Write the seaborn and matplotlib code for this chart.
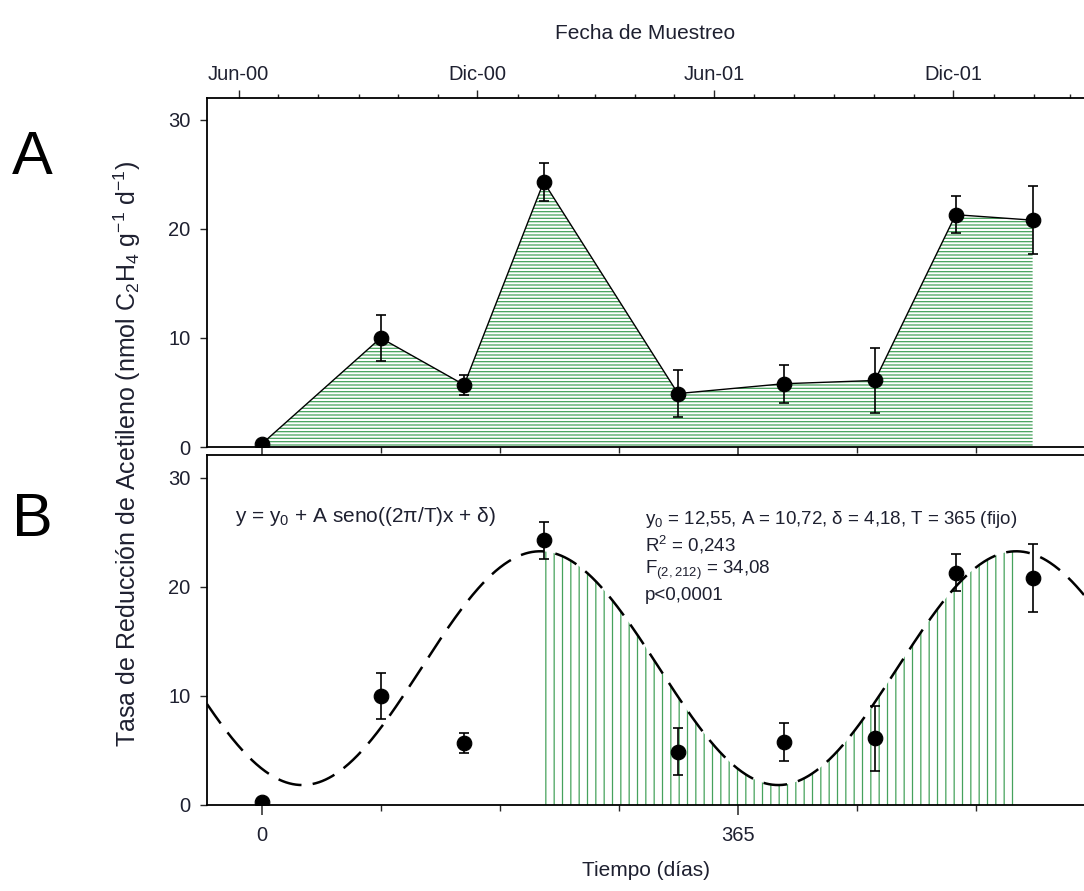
import numpy as np
import pandas as pd
import matplotlib
matplotlib.use("Agg")
import matplotlib.pyplot as plt
from matplotlib.ticker import FixedLocator, NullFormatter
import seaborn as sns

# ---------------- data ----------------
dias = [0, 91, 155, 216, 319, 400, 470, 532, 591]          # Tiempo (días)
tasa = [0.3, 10.0, 5.7, 24.3, 4.9, 5.8, 6.1, 21.3, 20.8]    # nmol C2H4 g-1 d-1
err = [0.2, 2.1, 0.9, 1.7, 2.15, 1.75, 3.0, 1.7, 3.1]       # error bars

# sine fit parameters
y0_fit, A_fit, delta_fit, T_fit = 12.55, 10.72, 4.18, 365.0

bottom_major = [0, 365]
bottom_labels = ["0", "365"]
y_ticks = [0, 10, 20, 30]

origin_date = "2000-06-19"
top_labels = ["Jun-00", "Dic-00", "Jun-01", "Dic-01"]
top_major_dates = ["2000-06-01", "2000-12-01", "2001-06-01", "2001-12-01"]
top_minor_range = ("2000-06-01", "2002-03-01")

# ---------------- style ----------------
sns.set_style("ticks")
plt.rcParams["font.family"] = ["Liberation Sans", "DejaVu Sans"]
plt.rcParams["mathtext.fontset"] = "custom"
plt.rcParams["mathtext.rm"] = "Liberation Sans"
plt.rcParams["mathtext.it"] = "Liberation Sans:italic"
plt.rcParams["mathtext.bf"] = "Liberation Sans:bold"
plt.rcParams["hatch.linewidth"] = 0.9
txt_col = "#1e2030"
green = "#46a25c"

W, H = 1084, 891
fig = plt.figure(figsize=(W / 100, H / 100), dpi=100)

def fr(x0, y_top, y_bot):
    return [x0 / W, 1 - y_bot / H, 1 - x0 / W, (y_bot - y_top) / H]

axA = fig.add_axes(fr(207, 98, 447))
axB = fig.add_axes(fr(207, 455, 805))

xlim = (-42.2, 630.4)
df = pd.DataFrame({"dias": dias, "tasa": tasa, "err": err})

# ---------------- Panel A ----------------
axA.fill_between(df["dias"], df["tasa"], 0, facecolor="none", edgecolor=green,
                 hatch="-----", linewidth=0, zorder=1)
sns.lineplot(data=df, x="dias", y="tasa", ax=axA, color="black", linewidth=1.0,
             zorder=2, legend=False)
axA.errorbar(df["dias"], df["tasa"], yerr=df["err"], fmt="none", ecolor="black",
             elinewidth=1.2, capsize=3.5, capthick=1.2, zorder=3)
sns.scatterplot(data=df, x="dias", y="tasa", ax=axA, color="black", s=110,
                edgecolor="black", zorder=4, legend=False)

# ---------------- Panel B ----------------
xf = np.linspace(xlim[0], xlim[1], 800)
yf = y0_fit + A_fit * np.sin(2 * np.pi / T_fit * xf + delta_fit)
peak1 = (2.5 * np.pi - delta_fit) * T_fit / (2 * np.pi)
peak2 = peak1 + T_fit
mask = (xf >= peak1) & (xf <= peak2)
axB.fill_between(xf[mask], yf[mask], 0, facecolor="none", edgecolor=green,
                 hatch="||", linewidth=0, zorder=1)
fit_df = pd.DataFrame({"x": xf, "y": yf})
sns.lineplot(data=fit_df, x="x", y="y", ax=axB, color="black", linewidth=1.8,
             dashes=False, zorder=2, legend=False)
axB.lines[-1].set_dashes((9.5, 4.5))
axB.errorbar(df["dias"], df["tasa"], yerr=df["err"], fmt="none", ecolor="black",
             elinewidth=1.2, capsize=3.5, capthick=1.2, zorder=3)
sns.scatterplot(data=df, x="dias", y="tasa", ax=axB, color="black", s=110,
                edgecolor="black", zorder=4, legend=False)

# ---------------- axes formatting ----------------
quarter_ticks = list(np.arange(0, xlim[1], T_fit / 4)) + list(np.arange(-T_fit / 4, xlim[0], -T_fit / 4))
for ax, ylim in ((axA, (0, 32.0)), (axB, (0, 32.1))):
    ax.set_xlim(*xlim)
    ax.set_ylim(*ylim)
    ax.set_xlabel("")
    ax.set_ylabel("")
    ax.spines["right"].set_visible(False)
    for s in ("left", "top", "bottom"):
        ax.spines[s].set_linewidth(1.3)
        ax.spines[s].set_color("black")
    ax.set_yticks(y_ticks)
    ax.set_xticks(bottom_major)
    ax.xaxis.set_minor_locator(FixedLocator(quarter_ticks))
    ax.tick_params(axis="y", direction="out", length=5, width=1, labelsize=14.5,
                   labelcolor=txt_col, pad=7)
    ax.tick_params(axis="x", which="major", direction="out", length=7, width=1.1,
                   labelsize=14.5, labelcolor=txt_col, pad=8, top=False)
    ax.tick_params(axis="x", which="minor", direction="out", length=4, width=1,
                   top=False)

axA.set_xticklabels([])
axB.set_xticklabels(bottom_labels)
axB.set_xlabel("Tiempo (días)", fontsize=15, color=txt_col, labelpad=12)

# top date axis
org = pd.Timestamp(origin_date)
major_pos = [(pd.Timestamp(d) - org).days for d in top_major_dates]
minor_pos = [(d - org).days for d in pd.date_range(*top_minor_range, freq="MS")]
sec = axA.secondary_xaxis("top")
sec.set_xticks(major_pos, top_labels)
sec.xaxis.set_minor_locator(FixedLocator(minor_pos))
sec.xaxis.set_minor_formatter(NullFormatter())
sec.tick_params(axis="x", which="major", direction="out", length=6, width=1,
                labelsize=14.5, labelcolor=txt_col, pad=4)
sec.tick_params(axis="x", which="minor", direction="out", length=3, width=1)
sec.spines["top"].set_visible(False)
sec.set_xlabel("Fecha de Muestreo", fontsize=15, color=txt_col, labelpad=19)

# ---------------- texts ----------------
fig.text(127 / W, 1 - 454 / H,
         r"Tasa de Reducción de Acetileno (nmol C$\mathregular{_2}$H$\mathregular{_4}$ g$\mathregular{^{-1}}$ d$\mathregular{^{-1}}$)",
         rotation=90, ha="center", va="center", fontsize=18, color=txt_col)
fig.text(32 / W, 1 - 158 / H, "A", fontsize=44, ha="center", va="center", color="black")
fig.text(32 / W, 1 - 520 / H, "B", fontsize=44, ha="center", va="center", color="black")

fig.text(235 / W, 1 - 516 / H, r"y = y$\mathregular{_0}$ + A seno((2π/T)x + δ)",
         fontsize=15, ha="left", va="center", color=txt_col)
stats = [
    r"y$\mathregular{_0}$ = 12,55, A = 10,72, δ = 4,18, T = 365 (fijo)",
    r"R$\mathregular{^2}$ = 0,243",
    r"F$\mathregular{_{(2, 212)}}$ = 34,08",
    r"p<0,0001",
]
for i, s in enumerate(stats):
    fig.text(645 / W, 1 - (519 + 25.5 * i) / H, s, fontsize=13.5, ha="left",
             va="center", color=txt_col)

fig.savefig("out.png", dpi=100)
